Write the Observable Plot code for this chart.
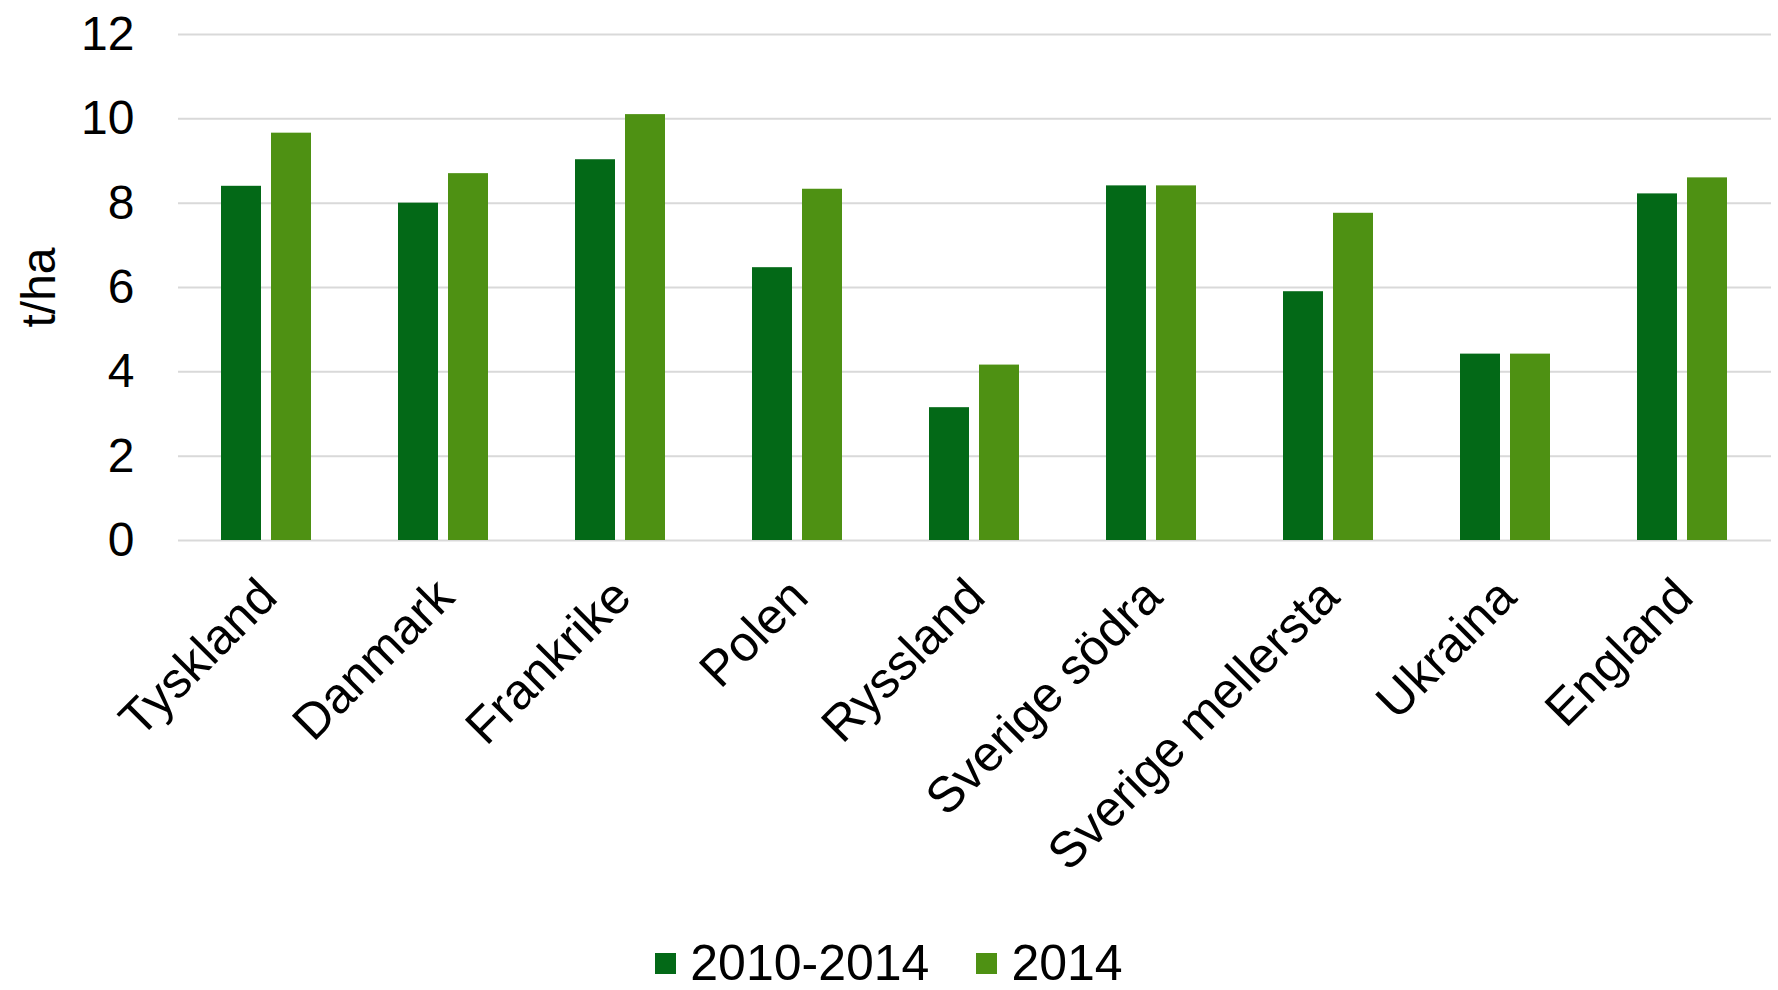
<!DOCTYPE html>
<html><head><meta charset="utf-8">
<script src="https://cdn.jsdelivr.net/npm/d3@7"></script>
<script src="https://cdn.jsdelivr.net/npm/@observablehq/plot@0.6"></script>
<style>
body{margin:0;background:#fff;font-family:"Liberation Sans",Arial,sans-serif;}
#wrap{position:relative;width:1778px;height:990px;overflow:hidden;background:#fff}
#legend{position:absolute;left:0;top:939px;width:1778px;height:48px;display:flex;justify-content:center;align-items:center;font-size:50px;line-height:48px;color:#000}
.item{display:flex;align-items:center}
.sw{width:21px;height:21px;margin-right:14px}
</style></head><body><div id="wrap"><div id="chart"></div><div id="legend"></div></div>
<script>
const categories = ["Tyskland","Danmark","Frankrike","Polen","Ryssland","Sverige södra","Sverige mellersta","Ukraina","England"];
const series = ["2010-2014","2014"];
const values2010_2014 = [8.4, 8.0, 9.03, 6.47, 3.15, 8.41, 5.9, 4.42, 8.22];
const values2014 = [9.66, 8.7, 10.1, 8.33, 4.16, 8.41, 7.76, 4.42, 8.6];
const yTicks = [0, 2, 4, 6, 8, 10, 12];
const yLabel = "t/ha";
const colors = ["#036917", "#4e9113"];

const dataA = categories.map((c, i) => ({category: c, series: series[0], value: values2010_2014[i]}));
const dataB = categories.map((c, i) => ({category: c, series: series[1], value: values2014[i]}));

const plot = Plot.plot({
  width: 1778, height: 930,
  marginLeft: 178, marginRight: 7, marginTop: 34, marginBottom: 390,
  style: {fontFamily: "Liberation Sans, Arial, sans-serif", fontSize: "48px", color: "#000", background: "#fff"},
  x: {domain: categories, paddingInner: 0.774, paddingOuter: 0.387, axis: null},
  y: {domain: [0, 12], axis: null},
  color: {domain: series, range: colors},
  marks: [
    Plot.ruleY(yTicks, {stroke: "#d9d9d9", strokeWidth: 2}),
    Plot.barY(dataA, {x: "category", y: "value", fill: "series", dx: -25}),
    Plot.barY(dataB, {x: "category", y: "value", fill: "series", dx: 25}),
    Plot.axisY(yTicks, {tickSize: 0, tickPadding: 44, label: null, fontSize: 48}),
    Plot.text(categories, {x: d => d, frameAnchor: "bottom", rotate: -45, textAnchor: "end", lineAnchor: "top", dx: -12, dy: 34, fontSize: 50}),
    Plot.text([yLabel], {frameAnchor: "left", rotate: -90, textAnchor: "middle", lineAnchor: "top", dx: -158, fontSize: 48})
  ]
});
document.getElementById("chart").appendChild(plot);

const legend = document.getElementById("legend");
series.forEach((s, i) => {
  const it = document.createElement("div");
  it.className = "item";
  if (i > 0) it.style.marginLeft = "47px";
  const sw = document.createElement("div");
  sw.className = "sw";
  sw.style.background = colors[i];
  const t = document.createElement("span");
  t.textContent = s;
  it.appendChild(sw); it.appendChild(t);
  legend.appendChild(it);
});
</script></body></html>
